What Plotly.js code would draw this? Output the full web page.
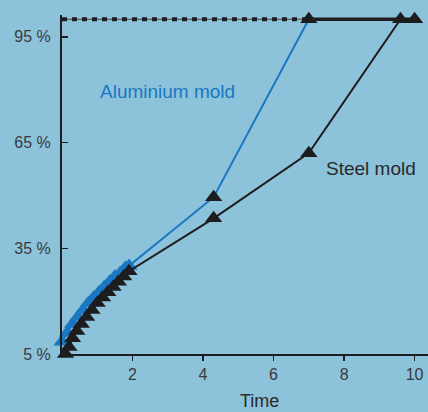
<!DOCTYPE html>
<html><head><meta charset="utf-8">
<script src="https://cdn.plot.ly/plotly-3.0.1.min.js"></script>
<style>html,body{margin:0;padding:0;background:#8cc2da;}#c{width:428px;height:412px;}</style>
</head><body><div id="c"></div>
<script>
// Data (time, % completion)
const steelTime = [0.1, 0.2, 0.3, 0.42, 0.55, 0.7, 0.85, 1.0, 1.15, 1.3, 1.45, 1.6, 1.75, 1.9, 4.3, 7.0, 9.6, 10.0];
const steelPct  = [5, 7, 9.5, 11.5, 13.5, 15.5, 17.5, 19.5, 21, 22.5, 24, 25.5, 27, 28.5, 43.5, 62, 100, 100];
const aluTime = [0.0, 0.15, 0.3, 0.45, 0.6, 0.75, 0.9, 1.05, 1.2, 1.35, 1.5, 1.65, 1.8, 1.9, 4.3, 7.0];
const aluPct  = [8.5, 11, 13.5, 15.5, 17.5, 19.5, 21, 22.5, 24, 25.5, 27, 28, 29.5, 30, 49.5, 100];
const plateauTime = [7.0, 10.0];
const plateauPct = [100, 100];
const refTime = [0, 7.0];
const refPct = [100, 100];
const yTicks = [5, 35, 65, 95];
const yTickText = ['5 %', '35 %', '65 %', '95 %'];
const xTicks = [2, 4, 6, 8, 10];

const BLUE = '#1a78c2', DARK = '#1d1d1f';
const aluMarkerColors = aluTime.map((t, i) => i < aluTime.length - 2 ? BLUE : DARK);
const font = "'Liberation Sans', Arial, sans-serif";

const traces = [
  {x: refTime, y: refPct, mode: 'lines', line: {color: '#444', width: 1}, hoverinfo: 'skip', cliponaxis: false},
  {x: refTime, y: refPct, mode: 'lines', line: {color: DARK, width: 4, dash: '5px,5px'}, hoverinfo: 'skip', cliponaxis: false},
  {x: aluTime, y: aluPct, mode: 'lines+markers', line: {color: BLUE, width: 2}, cliponaxis: false,
   marker: {symbol: 'triangle-up', size: 15, color: aluMarkerColors}},
  {x: plateauTime, y: plateauPct, mode: 'lines', line: {color: DARK, width: 3.5}, cliponaxis: false},
  {x: steelTime, y: steelPct, mode: 'lines+markers', line: {color: DARK, width: 2}, cliponaxis: false,
   marker: {symbol: 'triangle-up', size: 15, color: DARK}}
];

const layout = {
  width: 428, height: 412,
  paper_bgcolor: '#8cc2da', plot_bgcolor: '#8cc2da',
  margin: {l: 62, r: 0, t: 15, b: 58},
  showlegend: false,
  font: {family: font, color: '#3a3a3a', size: 16},
  xaxis: {range: [0, 10.38], tickvals: xTicks, ticks: 'outside', ticklen: 5, tickwidth: 1.5,
    tickcolor: DARK, showline: true, linecolor: DARK, linewidth: 2, showgrid: false, zeroline: false,
    tickfont: {size: 16, color: '#3a3a3a'}},
  yaxis: {range: [5, 101.2], tickvals: yTicks, ticktext: yTickText, ticks: 'inside', ticklen: 6,
    tickwidth: 1.5, tickcolor: DARK, showline: true, linecolor: DARK, linewidth: 2, showgrid: false,
    zeroline: false, tickfont: {size: 16, color: '#3a3a3a'}, ticklabelstandoff: 6},
  annotations: [
    {x: 3.0, y: 79.5, xref: 'x', yref: 'y', text: 'Aluminium mold', showarrow: false,
     font: {size: 19, color: BLUE, family: font}},
    {x: 8.75, y: 57.5, xref: 'x', yref: 'y', text: 'Steel mold', showarrow: false,
     font: {size: 19, color: '#2a2a2a', family: font}},
    {x: 5.6, y: -0.138, xref: 'x', yref: 'paper', yanchor: 'middle', xanchor: 'center', text: 'Time', showarrow: false,
     font: {size: 18, color: '#2a2a2a', family: font}}
  ]
};
Plotly.newPlot('c', traces, layout, {displayModeBar: false, staticPlot: true});
</script></body></html>
